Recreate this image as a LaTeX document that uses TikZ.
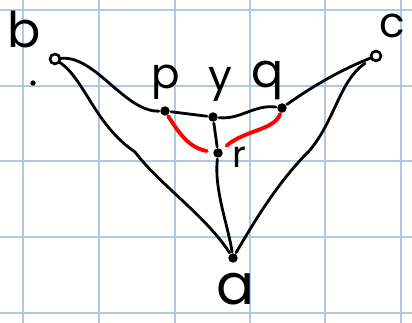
\documentclass[tikz,border=0pt]{standalone}
\usepackage{fontspec}
\setmainfont{Poppins}
\usepackage{xcolor}
\usetikzlibrary{positioning}
\definecolor{gridblue}{RGB}{178,198,230}

\begin{document}
\begin{tikzpicture}[x=0.02cm, y=-0.02cm, line width=1.6pt, line cap=round,
    vtx/.style={circle, fill=black, inner sep=0pt, minimum size=5.4pt},
    openvtx/.style={circle, draw, fill=white, line width=1.5pt, inner sep=0pt, minimum size=5.6pt},
    lbl/.style={font=\fontsize{24}{24}\selectfont, inner sep=0pt},
    redge/.style={red, line width=2.2pt}]
    % paper and grid
    \fill[white] (0,0) rectangle (412,323);
    \useasboundingbox (0,0) rectangle (412,323);
    \foreach \gx in {23,99,175,250,325,401}
        \draw[gridblue, line width=0.8pt] (\gx,0) -- (\gx,323);
    \foreach \gy in {10,86,161,237,313}
        \draw[gridblue, line width=0.8pt] (0,\gy) -- (412,\gy);

    % vertices
    \node[openvtx] (b) at (55,59) {};
    \node[openvtx] (c) at (376,56) {};
    \node[vtx] (p) at (165,111) {};
    \node[vtx] (y) at (213,117) {};
    \node[vtx] (q) at (282,108) {};
    \node[vtx] (r) at (218,153) {};
    \node[vtx] (a) at (233,258) {};
    \node[vtx, minimum size=3pt] (speck) at (33,83) {};

    % labels
    \node[lbl, font=\fontsize{28}{28}\selectfont] (lb) at (24,30) {b};
    \node[lbl] (lc) at (392,26) {c};
    \node[lbl] (lp) at (166,82) {p};
    \node[lbl] (ly) at (220,84) {y};
    \node[lbl, font=\fontsize{27}{27}\selectfont] (lq) at (268,80) {q};
    \node[lbl, font=\fontsize{21}{21}\selectfont] (lr) at (239,157) {r};
    \node[lbl, font=\fontsize{32}{32}\selectfont] (la) at (235,289) {a};

    % black edges
    \draw (b) .. controls (95,55) and (125,112) .. (p);
    \draw (b) .. controls (85,80) and (95,125) .. (135,152) .. controls (160,185) and (205,215) .. (a);
    \draw[shorten <=4pt] (c) .. controls (340,80) and (335,120) .. (310,150) .. controls (280,180) and (258,215) .. (a);
    \draw (q) .. controls (310,88) and (340,70) .. (c);
    \draw (p) -- (y);
    \draw (y) .. controls (240,120) and (255,104) .. (q);
    \draw (y) -- (r);
    \draw (r) .. controls (214,190) and (228,225) .. (a);

    % red edges
    \draw[redge, shorten >=3pt] (p) .. controls (180,135) and (190,148) .. (r);
    \draw[redge, shorten <=3pt] (r) .. controls (245,130) and (275,130) .. (q);
\end{tikzpicture}
\end{document}
